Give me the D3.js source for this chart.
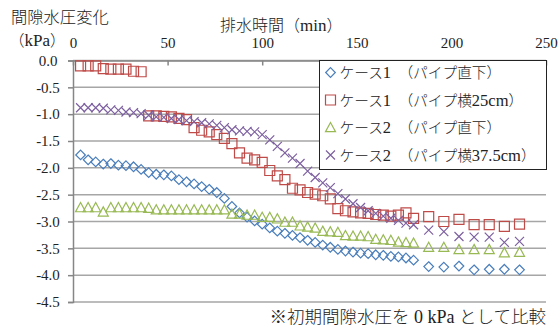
<!DOCTYPE html>
<html>
<head>
<meta charset="utf-8">
<script src="https://cdn.jsdelivr.net/npm/d3@7"></script>
<style>
  body { margin: 0; background: #fff; }
  svg { display: block; }
  text { font-family: "Liberation Serif", serif; fill: #222; }
  .jp { font-family: "Noto Sans CJK JP", sans-serif; font-weight: 300; }
</style>
</head>
<body>
<svg id="chart" width="559" height="328"></svg>
<script>
// elapsed drainage time (min)
const times = [4, 8, 12, 16, 20, 24, 28, 32, 36, 40, 44, 48, 52, 56, 60, 64, 68, 72, 76, 80,
  84, 88, 92, 96, 100, 104, 108, 112, 116, 120, 124, 128, 132, 136, 140, 144, 148, 152, 156, 160,
  164, 168, 172, 176, 180, 188, 196, 204, 212, 220, 228, 236];

// ケース1 (パイプ直下)
const case1Below = [-1.76, -1.85, -1.89, -1.93, -1.92, -1.95, -1.96, -1.98, -2.03, -2.09, -2.12, -2.13, -2.15, -2.22, -2.26,
  -2.30, -2.35, -2.40, -2.46, -2.57, -2.72, -2.84, -2.92, -2.99, -3.05, -3.12, -3.18, -3.22, -3.26, -3.30,
  -3.35, -3.39, -3.44, -3.48, -3.52, -3.55, -3.57, -3.59, -3.60, -3.62, -3.63, -3.65, -3.66, -3.68, -3.72,
  -3.84, -3.85, -3.83, -3.90, -3.89, -3.89, -3.90];

// ケース1 (パイプ横25cm)
const case1Side = [-0.10, -0.10, -0.10, -0.15, -0.16, -0.16, -0.16, -0.20, -0.21,
  -1.03, -1.03, -1.04, -1.05, -1.08, -1.10, -1.25, -1.30, -1.33, -1.38, -1.45, -1.55, -1.72, -1.82, -1.85, -1.90,
  -2.05, -2.15, -2.22, -2.38, -2.41, -2.46, -2.49, -2.52, -2.58, -2.76, -2.80, -2.82, -2.84, -2.85, -2.87,
  -2.88, -2.90, -2.88, -2.84, -2.94,
  -2.91, -3.00, -2.96, -3.06, -3.06, -3.09, -3.05];

// ケース2 (パイプ直下)
const case2Below = [-2.74, -2.74, -2.74, -2.82, -2.74, -2.74, -2.74, -2.74, -2.74, -2.75, -2.78, -2.78, -2.78, -2.78, -2.78,
  -2.78, -2.78, -2.78, -2.78, -2.78, -2.86, -2.86, -2.88, -2.88, -2.92, -2.92, -2.95, -3.01, -3.01, -3.08,
  -3.10, -3.12, -3.18, -3.19, -3.20, -3.26, -3.27, -3.27, -3.28, -3.33, -3.34, -3.35, -3.38, -3.39, -3.40,
  -3.48, -3.48, -3.52, -3.52, -3.52, -3.58, -3.57];

// ケース2 (パイプ横37.5cm)
const case2Side = [-0.88, -0.88, -0.88, -0.89, -0.92, -0.93, -0.96, -0.97, -0.99, -1.02, -1.05, -1.06, -1.08, -1.10, -1.12,
  -1.14, -1.16, -1.18, -1.21, -1.25, -1.29, -1.31, -1.32, -1.33, -1.38, -1.48, -1.60, -1.72, -1.82, -1.92,
  -2.06, -2.18, -2.28, -2.37, -2.48, -2.58, -2.67, -2.74, -2.80, -2.85, -2.90, -2.94, -2.98, -3.03, -3.06,
  -3.16, -3.19, -3.28, -3.29, -3.29, -3.39, -3.37];

const xTicks = [0, 50, 100, 150, 200, 250];
const yTicks = [0, -0.5, -1, -1.5, -2, -2.5, -3, -3.5, -4, -4.5];

const seriesNames = ['ケース1　（パイプ直下）', 'ケース1　（パイプ横25cm）', 'ケース2　（パイプ直下）', 'ケース2　（パイプ横37.5cm）'];
const seriesValues = [case1Below, case1Side, case2Below, case2Side];
const colors = ['#4a7ebb', '#be4b48', '#98b954', '#7d60a0'];
const shapes = ['diamond', 'square', 'triangle', 'cross'];

const svg = d3.select('#chart');
const margin = { left: 73, right: 13, top: 60.5, bottom: 26 };
const width = 559 - margin.left - margin.right;
const height = 328 - margin.top - margin.bottom;

const x = d3.scaleLinear().domain([0, 250]).range([0, width]);
const y = d3.scaleLinear().domain([-4.5, 0]).range([height, 0]);

function markerPath(shape) {
  switch (shape) {
    case 'diamond': return 'M0,-4.8L4.8,0L0,4.8L-4.8,0Z';
    case 'square': return 'M-5,-5H5V5H-5Z';
    case 'triangle': return 'M0,-5L5,4.2H-5Z';
    default: return 'M-4.5,-4.5L4.5,4.5M4.5,-4.5L-4.5,4.5';
  }
}

// split text into japanese / latin runs so digits and letters stay serif
const jpChars = /[\u3000-\u30ff\u4e00-\u9fff\uff00-\uffef※]/;
function mixedText(sel, str, size, latinSize) {
  const runs = str.match(/[\u3000-\u30ff\u4e00-\u9fff\uff00-\uffef※]+|[^\u3000-\u30ff\u4e00-\u9fff\uff00-\uffef※]+/g);
  runs.forEach((r) => {
    const isJp = jpChars.test(r);
    sel.append('tspan')
      .attr('class', isJp ? 'jp' : null)
      .style('font-size', (isJp ? size : latinSize) + 'px')
      .text(r);
  });
  return sel;
}

const g = svg.append('g').attr('transform', `translate(${margin.left},${margin.top})`);

// gridlines
g.append('g')
  .selectAll('line')
  .data(yTicks)
  .enter()
  .append('line')
  .attr('x1', 0)
  .attr('x2', width)
  .attr('y1', (d) => y(d))
  .attr('y2', (d) => y(d))
  .attr('stroke', '#a6a6a6')
  .attr('stroke-width', 1.5);

// y axis
const yAxis = d3.axisLeft(y).tickValues(yTicks).tickSize(5).tickPadding(0);
const yAxisContainer = g.append('g').call(yAxis);
yAxisContainer.select('.domain').attr('stroke', '#868686').attr('stroke-width', 1.5);
yAxisContainer.selectAll('.tick line').attr('stroke', '#868686').attr('stroke-width', 1.5);
yAxisContainer.selectAll('.tick text')
  .attr('x', -25)
  .attr('text-anchor', 'middle')
  .style('font-size', '15px')
  .text((d) => (d === 0 ? '0.0' : '-' + d3.format('.1f')(-d)));

// x axis on top, ticks pointing into plot
const xAxis = d3.axisTop(x).tickValues(xTicks).tickSize(-5).tickSizeOuter(0).tickPadding(0);
const xAxisContainer = g.append('g').call(xAxis);
xAxisContainer.select('.domain').attr('stroke', '#868686').attr('stroke-width', 1.5);
xAxisContainer.selectAll('.tick line').attr('stroke', '#868686').attr('stroke-width', 1.5);
xAxisContainer.selectAll('.tick text')
  .attr('y', -13)
  .style('font-size', '15px');

// data
const dataContainer = g.append('g');
seriesValues.forEach((vals, i) => {
  dataContainer.append('g')
    .selectAll('path')
    .data(vals.map((v, k) => ({ t: times[k], v: v })))
    .enter()
    .append('path')
    .attr('transform', (d) => `translate(${x(d.t)},${y(d.v)})`)
    .attr('d', markerPath(shapes[i]))
    .attr('fill', 'none')
    .attr('stroke', colors[i])
    .attr('stroke-width', 1.2);
});

// legend
const legend = svg.append('g').attr('transform', 'translate(319.5,60.5)');
legend.append('rect')
  .attr('width', 227)
  .attr('height', 109)
  .attr('fill', '#fff')
  .attr('stroke', '#222')
  .attr('stroke-width', 1);
seriesNames.forEach((name, i) => {
  const row = legend.append('g').attr('transform', `translate(0,${12 + i * 27.5})`);
  row.append('path')
    .attr('transform', 'translate(11,0)')
    .attr('d', markerPath(shapes[i]))
    .attr('fill', 'none')
    .attr('stroke', colors[i])
    .attr('stroke-width', 1.2);
  mixedText(row.append('text').attr('x', 20).attr('dy', '0.35em'), name, 14.7, 16.5);
});

// titles
mixedText(svg.append('text').attr('x', 11).attr('y', 23), '間隙水圧変化', 16.3, 17);
mixedText(svg.append('text').attr('x', 9).attr('y', 46), '（kPa）', 15.5, 17);
mixedText(svg.append('text').attr('x', 220).attr('y', 31), '排水時間（min）', 16, 17);
mixedText(svg.append('text').attr('x', 546).attr('y', 323).attr('text-anchor', 'end'),
  '※初期間隙水圧を 0 kPa として比較', 17.5, 18);
</script>
</body>
</html>
